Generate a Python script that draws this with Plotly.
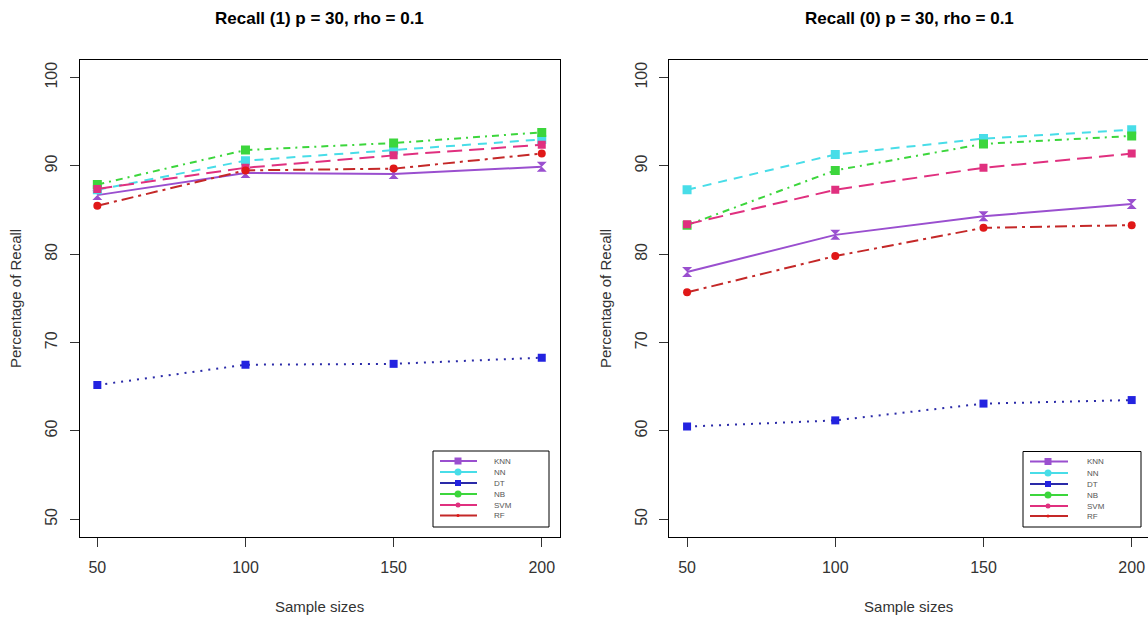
import plotly.graph_objects as go

# Sample sizes on the x axis
sample_sizes = [50, 100, 150, 200]

# Recall (1), p = 30, rho = 0.1
recall1_knn = [86.7, 89.2, 89.1, 89.9]
recall1_nn = [87.3, 90.6, 91.8, 93.0]
recall1_dt = [65.2, 67.5, 67.6, 68.3]
recall1_nb = [87.9, 91.8, 92.6, 93.8]
recall1_svm = [87.4, 89.8, 91.2, 92.4]
recall1_rf = [85.5, 89.5, 89.7, 91.4]

# Recall (0), p = 30, rho = 0.1
recall0_knn = [78.0, 82.2, 84.3, 85.7]
recall0_nn = [87.3, 91.3, 93.1, 94.1]
recall0_dt = [60.5, 61.2, 63.1, 63.5]
recall0_nb = [83.3, 89.5, 92.5, 93.4]
recall0_svm = [83.4, 87.3, 89.8, 91.4]
recall0_rf = [75.7, 79.8, 83.0, 83.3]

y_ticks = [50, 60, 70, 80, 90, 100]
x_ticks = [50, 100, 150, 200]

titles = ["Recall (1) p = 30, rho = 0.1", "Recall (0) p = 30, rho = 0.1"]

# name, line colour, marker colour, dash, marker symbol, marker size
styles = [
    ("KNN", "#9A4FCF", "#9A4FCF", "solid", "hourglass", 10),
    ("NN", "#48DDE8", "#48DDE8", "9px,7px", "square", 9),
    ("DT", "#2A2AA8", "#2323E0", "2px,6px", "square", 8),
    ("NB", "#3CD63C", "#3CD63C", "7px,5px,2px,5px", "square", 9),
    ("SVM", "#E0307F", "#E0307F", "15px,7px", "square", 8),
    ("RF", "#C42828", "#E01818", "12px,5px,3px,5px", "circle", 8),
]

# key glyphs: shape type and half-size in pixels
key_glyphs = [("rect", 3.5), ("circle", 3.5), ("rect", 3), ("circle", 3.5),
              ("circle", 2.5), ("circle", 1.5)]

panels = [
    [recall1_knn, recall1_nn, recall1_dt, recall1_nb, recall1_svm, recall1_rf],
    [recall0_knn, recall0_nn, recall0_dt, recall0_nb, recall0_svm, recall0_rf],
]

W, H = 1148, 617
FONT = "Liberation Sans Narrow, Arial Narrow, Liberation Sans, Arial, sans-serif"
TXT = "#333"

fig = go.Figure()
for p, series in enumerate(panels):
    suffix = "" if p == 0 else str(p + 1)
    for (name, lc, mc, dash, sym, ms), vals in zip(styles, series):
        fig.add_trace(go.Scatter(
            x=sample_sizes, y=vals, name=name, mode="lines+markers",
            line=dict(color=lc, width=2, dash=dash),
            marker=dict(color=mc, symbol=sym, size=ms, line=dict(width=0)),
            xaxis="x" + suffix, yaxis="y" + suffix, showlegend=False,
        ))

axis_common = dict(
    showgrid=False, zeroline=False, showline=True, mirror=True,
    linecolor="black", linewidth=1, ticks="outside", tickcolor=TXT,
    tickwidth=1, ticklen=9,
    tickfont=dict(family=FONT, size=16, color=TXT),
)
title_font = dict(family=FONT, size=15, color=TXT)


def xaxis_def(domain, rng, anchor):
    return dict(domain=domain, range=rng, tickvals=x_ticks, anchor=anchor,
                ticklabelstandoff=7,
                title=dict(text="Sample sizes", standoff=26, font=title_font),
                **axis_common)


def yaxis_def(anchor):
    return dict(domain=[0.1297, 0.9028], range=[48, 102], tickvals=y_ticks,
                tickangle=-90, anchor=anchor, ticklabelstandoff=6,
                title=dict(text="Percentage of Recall", standoff=17,
                           font=title_font),
                **axis_common)


fig.update_layout(
    width=W, height=H,
    margin=dict(l=0, r=0, t=0, b=0),
    paper_bgcolor="white", plot_bgcolor="white",
    xaxis=xaxis_def([0.0693, 0.4874], [44, 206], "y"),
    yaxis=yaxis_def("x"),
    xaxis2=xaxis_def([0.5830, 1.0], [44, 205.5], "y2"),
    yaxis2=yaxis_def("x2"),
    showlegend=False,
)

for text, xc in zip(titles, [319.5, 909.0]):
    fig.add_annotation(
        text="<b>" + text + "</b>", x=xc / W, y=1 - 18 / H,
        xref="paper", yref="paper", xanchor="center", yanchor="middle",
        showarrow=False, font=dict(family=FONT, size=17, color="black"),
    )


def px(x):
    return x / W


def py(y):
    return 1 - y / H


def add_key(box, line_x, glyph_x, text_x, rows):
    """Legend box drawn in pixel positions on the page."""
    x0, y0, x1, y1 = box
    fig.add_shape(type="rect", xref="paper", yref="paper",
                  x0=px(x0), x1=px(x1), y0=py(y0), y1=py(y1),
                  line=dict(color="black", width=1), fillcolor="white",
                  layer="above")
    for (name, lc, mc, *_), (gtype, r), yy in zip(styles, key_glyphs, rows):
        fig.add_shape(type="line", xref="paper", yref="paper",
                      x0=px(line_x[0]), x1=px(line_x[1]), y0=py(yy), y1=py(yy),
                      line=dict(color=lc, width=2), layer="above")
        fig.add_shape(type=gtype, xref="paper", yref="paper",
                      x0=px(glyph_x - r), x1=px(glyph_x + r),
                      y0=py(yy + r), y1=py(yy - r),
                      line=dict(width=0), fillcolor=mc, layer="above")
        fig.add_annotation(text=name, x=px(text_x), y=py(yy),
                           xref="paper", yref="paper", xanchor="left",
                           yanchor="middle", showarrow=False,
                           font=dict(family=FONT, size=8, color="#555"))


add_key((433, 451, 549, 527), (440, 477), 458, 492,
        [461, 472, 483, 494, 505, 515.5])
add_key((1023, 451.5, 1141, 527), (1030, 1068), 1048, 1085,
        [461.5, 473, 484, 495, 506, 516])

fig.write_html("out.html")
